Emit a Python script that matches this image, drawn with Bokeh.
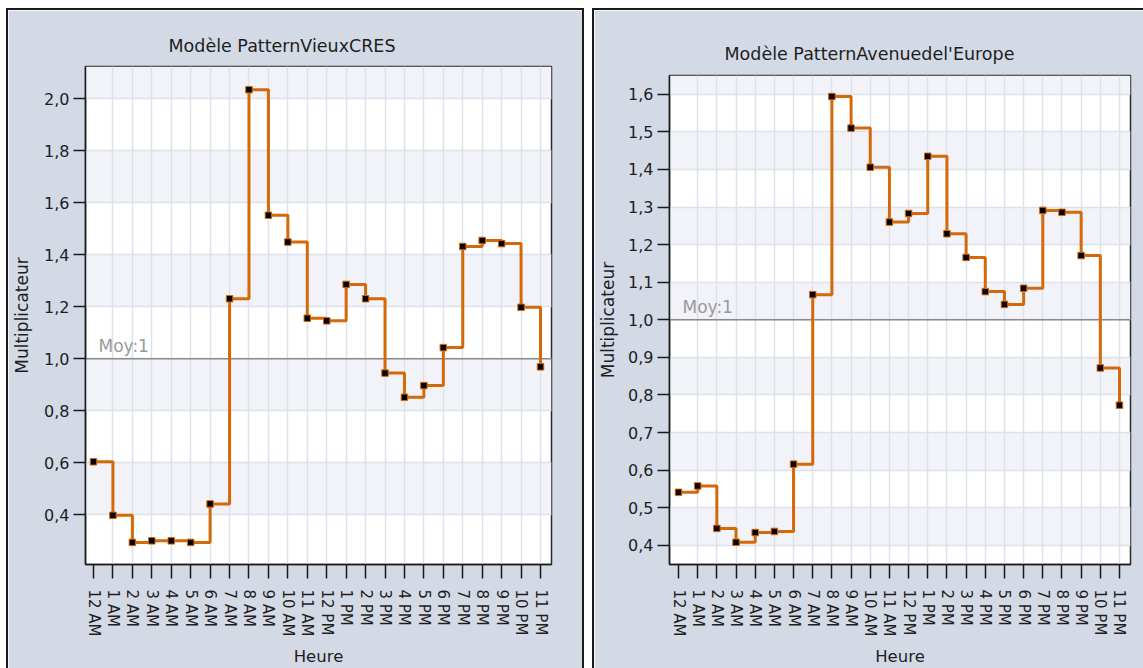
import math
from bokeh.plotting import figure
from bokeh.models import (FixedTicker, CustomJSTickFormatter, Span, Label,
                          BoxAnnotation, Range1d)
from bokeh.embed import file_html
from bokeh.resources import INLINE

# ---------------- data ----------------
HOURS = ["12 AM", "1 AM", "2 AM", "3 AM", "4 AM", "5 AM", "6 AM", "7 AM",
         "8 AM", "9 AM", "10 AM", "11 AM", "12 PM", "1 PM", "2 PM", "3 PM",
         "4 PM", "5 PM", "6 PM", "7 PM", "8 PM", "9 PM", "10 PM", "11 PM"]

VIEUX_TITLE = "Modèle PatternVieuxCRES"
VIEUX = [0.604, 0.398, 0.294, 0.300, 0.300, 0.294, 0.442, 1.231,
         2.035, 1.552, 1.449, 1.156, 1.146, 1.286, 1.231, 0.945,
         0.852, 0.897, 1.043, 1.432, 1.455, 1.443, 1.198, 0.969]
VIEUX_YTICKS = [0.4, 0.6, 0.8, 1.0, 1.2, 1.4, 1.6, 1.8, 2.0]

EUROPE_TITLE = "Modèle PatternAvenuedel'Europe"
EUROPE = [0.541, 0.558, 0.445, 0.408, 0.434, 0.437, 0.616, 1.067,
          1.594, 1.510, 1.406, 1.260, 1.283, 1.435, 1.229, 1.166,
          1.075, 1.041, 1.084, 1.291, 1.286, 1.171, 0.872, 0.773]
EUROPE_YTICKS = [0.4, 0.5, 0.6, 0.7, 0.8, 0.9, 1.0, 1.1, 1.2, 1.3, 1.4, 1.5, 1.6]

AVG = 1.0
AVG_LABEL = "Moy:1"
X_LABEL = "Heure"
Y_LABEL = "Multiplicateur"

# ---------------- style ----------------
FONT = "DejaVu Sans"
PANEL = "#D4D9E6"
BAND = "#F2F3F8"
GRID = "#DCE1EC"
LINE = "#D4690A"
TEXT = "#1E1E1E"


def make(title, values, yticks, pos, size, xr, yr, mb, title_offset,
         title_standoff, ylab_standoff):
    xs = list(range(len(values)))
    p = figure(width=size[0], height=size[1],
               x_range=Range1d(*xr), y_range=Range1d(*yr),
               output_backend="svg", toolbar_location=None, tools="",
               min_border_left=mb[0], min_border_right=mb[1],
               min_border_top=mb[2], min_border_bottom=mb[3])
    p.styles = {"position": "absolute", "left": f"{pos[0]}px", "top": f"{pos[1]}px",
                "outline": "2px solid #1a1a1a"}
    p.border_fill_color = PANEL
    p.background_fill_color = "white"
    p.outline_line_color = "#2a2a2a"
    p.outline_line_width = 1.5

    # title
    p.title.text = title
    p.title.align = "left"
    p.title.offset = title_offset
    p.title.standoff = title_standoff
    p.title.text_font = FONT
    p.title.text_font_size = "17.5px"
    p.title.text_font_style = "normal"
    p.title.text_color = TEXT

    # alternating bands
    n = len(yticks)
    for i in range(1, n + 1, 2):
        top = yticks[i] if i < n else None
        p.add_layout(BoxAnnotation(bottom=yticks[i - 1], top=top,
                                   fill_color=BAND, fill_alpha=1.0,
                                   line_color=None, level="image"))

    # grids
    p.xgrid.ticker = FixedTicker(ticks=xs[1:])
    p.xgrid.grid_line_color = GRID
    p.xgrid.grid_line_width = 1.5
    p.ygrid.ticker = FixedTicker(ticks=yticks)
    p.ygrid.grid_line_color = GRID
    p.ygrid.grid_line_width = 1.5

    # axes
    xa = p.xaxis[0]
    xa.ticker = FixedTicker(ticks=xs)
    xa.major_label_overrides = {i: h for i, h in enumerate(HOURS)}
    xa.major_label_orientation = -math.pi / 2
    xa.major_tick_out = 14
    xa.major_tick_in = 0
    xa.minor_tick_line_color = None
    xa.major_label_standoff = 11
    xa.axis_label = X_LABEL
    xa.axis_label_standoff = 7
    xa.axis_label_text_font_size = "16.5px"

    ya = p.yaxis[0]
    ya.ticker = FixedTicker(ticks=yticks)
    ya.formatter = CustomJSTickFormatter(code="return tick.toFixed(1).replace('.', ',');")
    ya.major_tick_out = 12
    ya.major_tick_in = 0
    ya.minor_tick_line_color = None
    ya.major_label_standoff = 4
    ya.axis_label = Y_LABEL
    ya.axis_label_standoff = ylab_standoff
    ya.axis_label_text_font_size = "17px"

    for ax in (xa, ya):
        ax.axis_line_color = "#1a1a1a"
        ax.axis_line_width = 1.5
        ax.major_tick_line_color = "#1a1a1a"
        ax.major_tick_line_width = 1.5
        ax.major_label_text_font = FONT
        ax.major_label_text_color = TEXT
        ax.axis_label_text_font = FONT
        ax.axis_label_text_font_style = "normal"
        ax.axis_label_text_color = TEXT
    ya.major_label_text_font_size = "16px"
    xa.major_label_text_font_size = "15px"

    # average line
    p.add_layout(Span(location=AVG, dimension="width", line_color="#8A8A8A",
                      line_width=1.5, level="underlay"))
    p.add_layout(Label(x=xr[0], y=AVG, x_offset=13, y_offset=3,
                       text=AVG_LABEL, text_font=FONT, text_font_size="17px",
                       text_color="#9A9A9A"))

    # step series
    p.step(xs, values, mode="after", line_color=LINE, line_width=3)
    p.scatter(xs, values, marker="square", size=6.5, fill_color="black",
              line_color=LINE, line_width=1)
    return p


left = make(VIEUX_TITLE, VIEUX, VIEUX_YTICKS, (8, 10), (574, 658),
            (-0.412, 23.566), (0.209, 2.124), (77, 31, 56, 104), 83, 22, 9)
right = make(EUROPE_TITLE, EUROPE, EUROPE_YTICKS, (594, 10), (549, 658),
             (-0.47, 23.574), (0.349, 1.650), (75, 13, 65, 103), 55, 24, 7)

open("out.html", "w").write(file_html([left, right], INLINE))
